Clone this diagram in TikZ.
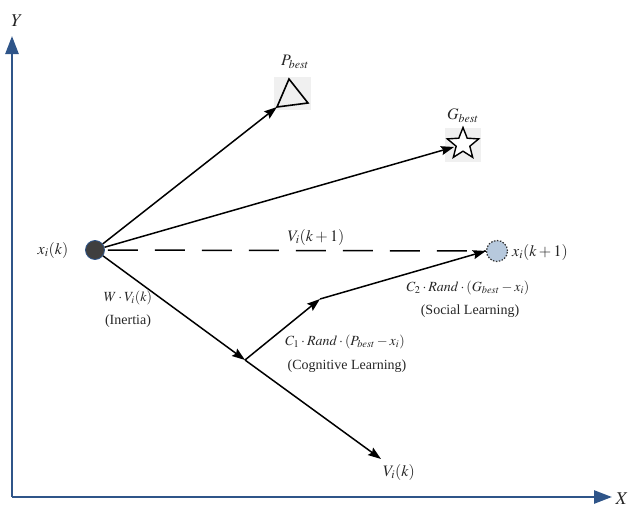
\documentclass[tikz,border=0pt]{standalone}
\usepackage{mathptmx}
\usepackage{fontspec}
\setmainfont{Liberation Serif}
\usetikzlibrary{arrows.meta,shapes.geometric}
\definecolor{axisblue}{HTML}{2F5589}
\definecolor{lightdot}{HTML}{B7C9DD}
\definecolor{darkdot}{HTML}{3F3F3F}
\begin{document}
\begin{tikzpicture}[x=1pt,y=-1pt,
  axis/.style={draw=axisblue,line width=2.6pt,-{Triangle[length=18pt,width=13pt]}},
  vec/.style={draw=black,line width=1.5pt,-{Stealth[length=13pt,width=9pt,inset=2pt]}},
  lbl/.style={font=\fontsize{14}{16}\selectfont,text=black!85,inner sep=0pt},
  mlbl/.style={font=\fontsize{16}{18}\selectfont,text=black!85,inner sep=0pt}]
\useasboundingbox (0,0) rectangle (630,509);
% axes
\coordinate (O) at (12,497);
\coordinate (Ytip) at (12,36);
\coordinate (Xtip) at (612,497);
\draw[axis] (O) -- (Ytip);
\draw[axis] (O) -- (Xtip);
\node[mlbl,font=\fontsize{18}{20}\selectfont] (Ylab) at (17,21) {$Y$};
\node[mlbl,font=\fontsize{18}{20}\selectfont] (Xlab) at (622,499) {$X$};
% Pbest triangle
\fill[black!6] (274,77) rectangle (311,110);
\coordinate (T1) at (289,79);
\coordinate (T2) at (277,107);
\coordinate (T3) at (308,103);
\draw[line width=1.6pt,line join=miter] (T1) -- (T2) -- (T3) -- cycle;
\node[mlbl] (Plab) at (295,62) {$P_{best}$};
% Gbest star
\fill[black!6] (445,128) rectangle (481,162);
\node[star,star points=5,star point ratio=2.3,draw,line width=1.4pt,minimum size=33pt,inner sep=0pt,fill=white] (G) at (463,144) {};
\node[mlbl] (Glab) at (463,116) {$G_{best}$};
% particles
\node[circle,fill=darkdot,draw=axisblue,line width=0.8pt,minimum size=19pt,inner sep=0pt] (xk) at (95,250) {};
\node[circle,fill=lightdot,draw=black!80,dash pattern=on 1.5pt off 1.5pt,line width=1.2pt,minimum size=21pt,inner sep=0pt] (xk1) at (497,251) {};
\node[mlbl] (xklab) at (53,250) {$x_i(k)$};
\node[mlbl,anchor=west] (xk1lab) at (512,252) {$x_i(k+1)$};
% intermediate points
\coordinate (A) at (245,360);
\coordinate (B) at (320,299);
\coordinate (Vend) at (381,459);
\coordinate (Ptip) at (277,107);
\coordinate (Gtip) at (454,147);
% vectors
\draw[vec] (xk) -- (Ptip);
\draw[vec] (xk) -- (Gtip);
\draw[black,line width=1.5pt,dash pattern=on 30pt off 17pt] (xk.east) ++(3,0) -- (xk1.west);
\draw[vec] (xk) -- (A);
\draw[vec] (A) -- (Vend);
\draw[vec] (A) -- (B);
\draw[vec] (B) -- (xk1.west);
% labels
\node[mlbl] (Vk1) at (316,237) {$V_i(k+1)$};
\node[mlbl] (Vk) at (399,472) {$V_i(k)$};
\node[lbl] (Wlab) at (128,298) {$W\cdot V_i(k)$};
\node[lbl] (Inertia) at (128,321) {(Inertia)};
\node[lbl] (C1lab) at (345,342) {$C_1\cdot Rand\cdot(P_{best}-x_i)$};
\node[lbl] (Cog) at (347,366) {(Cognitive Learning)};
\node[lbl] (C2lab) at (468,288) {$C_2\cdot Rand\cdot(G_{best}-x_i)$};
\node[lbl] (Soc) at (470,311) {(Social Learning)};
\end{tikzpicture}
\end{document}
